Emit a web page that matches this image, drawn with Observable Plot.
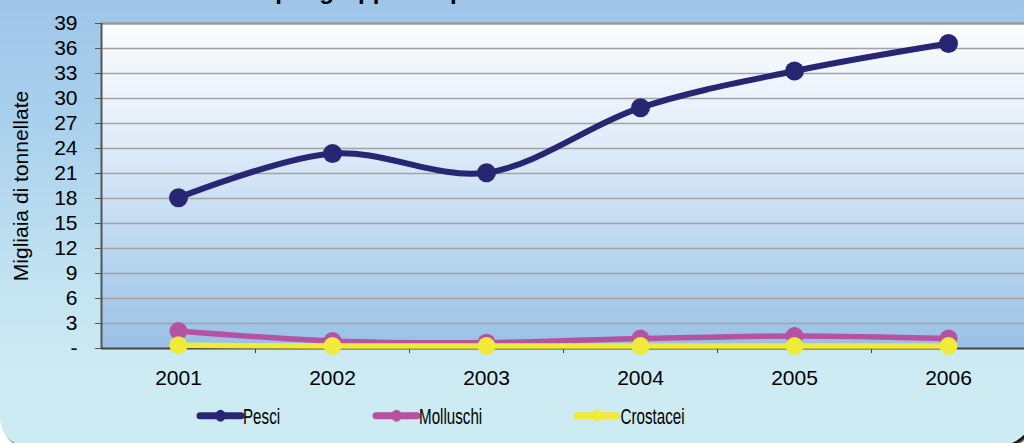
<!DOCTYPE html>
<html><head><meta charset="utf-8">
<script src="https://cdn.jsdelivr.net/npm/d3@7"></script>
<script src="https://cdn.jsdelivr.net/npm/@observablehq/plot@0.6"></script>
<style>
html,body{margin:0;padding:0;background:#fff;overflow:hidden;width:1024px;height:443px;position:relative;}
#card{position:absolute;left:0;top:-20px;width:1036px;height:466px;border-radius:0 0 40px 28px;
 background:linear-gradient(to bottom,#9dc4e8 0%,#a9d0ec 30%,#c2e3f1 65%,#cdebf3 85%,#cdebf3 100%);
 box-shadow:3px 3px 2px #1a1a1a;}
#chart{position:absolute;left:0;top:0;}
#legend{position:absolute;left:0;top:395px;}
#title{position:absolute;left:0;top:0;overflow:visible;}
svg{overflow:visible;}
</style></head><body>
<div id="card"></div>
<svg id="title" width="1024" height="10"></svg>
<div id="chart"></div>
<svg id="legend" width="1024" height="40"></svg>
<script>
const years = [2001, 2002, 2003, 2004, 2005, 2006];
const pesci = [18.1, 23.4, 21.1, 28.9, 33.3, 36.6];
const molluschi = [2.1, 0.9, 0.7, 1.2, 1.5, 1.2];
const crostacei = [0.4, 0.3, 0.3, 0.3, 0.3, 0.3];
const seriesNames = ["Pesci", "Molluschi", "Crostacei"];
const seriesColors = ["#262673", "#b652a2", "#f0ea3a"];
const yTicks = [0, 3, 6, 9, 12, 15, 18, 21, 24, 27, 30, 33, 36, 39];
const yLabel = "Migliaia di tonnellate";
const titleText = "Produzione per gruppo di specie";

const seriesValues = [pesci, molluschi, crostacei];
const table = seriesNames.flatMap((s, k) => years.map((yr, i) => ({series: s, year: yr, value: seriesValues[k][i]})));
const bounds = years.slice(0, -1).map(d => d + 0.5);
const xDomain = [years[0] - 0.5, years[years.length - 1] + 0.5];

const seriesMarks = seriesNames.flatMap((s, k) => {
  const rows = table.filter(d => d.series === s);
  return [
    Plot.line(rows, {x: "year", y: "value", curve: "catmull-rom", stroke: seriesColors[k], strokeWidth: k === 0 ? 6 : 5.5}),
    Plot.dot(rows, {x: "year", y: "value", r: k === 0 ? 9.5 : 9, fill: seriesColors[k], stroke: "none"})
  ];
});

const chart = Plot.plot({
  width: 1024, height: 400,
  marginLeft: 101, marginRight: -1, marginTop: 23, marginBottom: 52,
  x: {type: "linear", domain: xDomain},
  y: {domain: [0, 39]},
  style: {background: "transparent", fontFamily: "'Liberation Sans', Arial, sans-serif", fontSize: "21px", color: "#000", overflow: "visible"},
  marks: [
    Plot.frame({fill: "url(#pg)", stroke: "none"}),
    Plot.ruleY(yTicks.filter(d => d > 0 && d < 39), {stroke: "#a3a3a3", strokeWidth: 1.3}),
    Plot.ruleY([39], {stroke: "#999", strokeWidth: 2.5}),
    Plot.axisY({ticks: yTicks, tickFormat: d => d === 0 ? "-" : String(d), tickSize: 6, tickPadding: 18, stroke: "#555",
      label: yLabel, labelAnchor: "center", labelOffset: 88, labelArrow: "none", fill: "#000"}),
    Plot.axisX({ticks: years, tickSize: 0, tickPadding: 22, tickFormat: d => String(d), label: null, fill: "#000"}),
    Plot.axisX({ticks: bounds, tickSize: 5, tickFormat: () => "", label: null, stroke: "#444"}),
    Plot.ruleX([xDomain[0]], {stroke: "#555", strokeWidth: 2}),
    Plot.ruleY([0], {stroke: "#444", strokeWidth: 2}),
    ...seriesMarks
  ]
});
document.getElementById("chart").appendChild(chart);
const g = d3.select(chart).insert("defs", ":first-child").append("linearGradient")
  .attr("id", "pg").attr("x1", 0).attr("y1", 0).attr("x2", 0).attr("y2", 1);
[[0, "#fafcfe"], [0.3, "#e6f0fa"], [0.7, "#bad6ef"], [1, "#98c0e5"]].forEach(([o, c]) =>
  g.append("stop").attr("offset", o).attr("stop-color", c));

// title (mostly outside the visible page, as in the reference)
d3.select("#title").append("text").attr("x", 138).attr("y", -1)
  .attr("font-family", "'Liberation Sans', Arial, sans-serif").attr("font-weight", "bold").attr("font-size", 24)
  .text(titleText);

// legend
const leg = d3.select("#legend");
const items = [{x1: 200, x2: 241, tx: 243}, {x1: 376, x2: 417, tx: 419}, {x1: 577, x2: 617, tx: 620.5}];
seriesNames.forEach((s, k) => {
  const it = items[k];
  leg.append("line").attr("x1", it.x1).attr("x2", it.x2).attr("y1", 20.7).attr("y2", 20.7)
    .attr("stroke", seriesColors[k]).attr("stroke-width", 7).attr("stroke-linecap", "round");
  leg.append("ellipse").attr("cx", (it.x1 + it.x2) / 2).attr("cy", 20.7).attr("rx", 5).attr("ry", 6)
    .attr("fill", seriesColors[k]);
  leg.append("text").attr("transform", `translate(${it.tx},29) scale(0.69,1)`)
    .attr("font-family", "'Liberation Sans', Arial, sans-serif").attr("font-size", 22)
    .attr("fill", "#000").text(s);
});
</script>
</body></html>
